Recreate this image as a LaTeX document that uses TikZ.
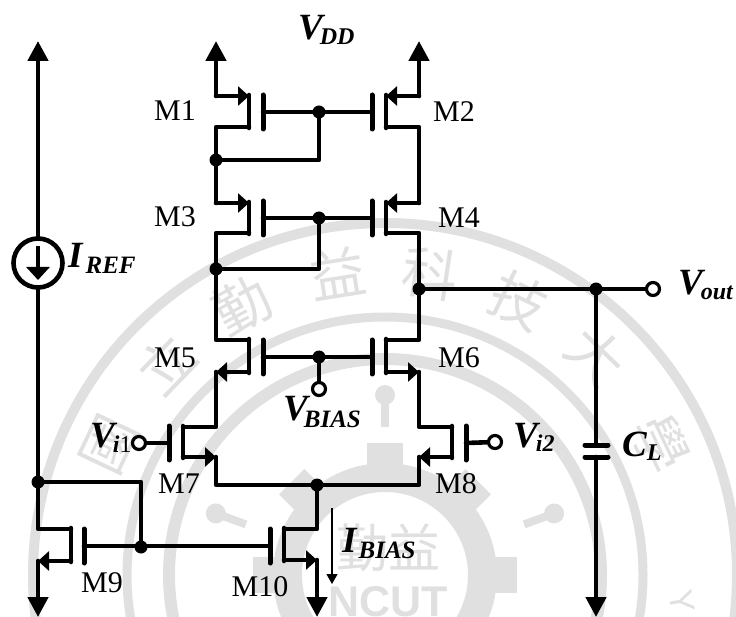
\documentclass[tikz,border=0pt]{standalone}
\usepackage{fontspec}
\setmainfont{Liberation Serif}
\newfontfamily\cjkwm{Noto Sans CJK TC}
\newfontfamily\sanswm{Liberation Sans}
\usetikzlibrary{arrows.meta,calc}
\definecolor{wm}{HTML}{E0E0E0}
\newcommand{\bi}{\bfseries\itshape}
% kern, main size, main letter, sub size, sub text, lowering of the sub
\newcommand{\VLab}[6][0]{{\fontsize{#2}{#2}\selectfont\bi #3}\kern#1pt\raisebox{-#6pt}{\fontsize{#4}{#4}\selectfont #5}}
\tikzset{
  wire/.style={line width=4.6pt,line cap=round,line join=round,black},
  plate/.style={line width=5pt,line cap=round,black},
  bigtip/.style={-{Triangle[length=20pt,width=20pt]}},
  smalltip/.style={-{Triangle[length=11pt,width=19pt]}},
  dotn/.style={circle,fill=black,inner sep=0pt,minimum size=13pt},
  term/.style={circle,draw=black,line width=3.2pt,fill=white,inner sep=0pt,minimum size=13pt},
  mlabel/.style={inner sep=0pt,font=\fontsize{30}{30}\selectfont},
  vlabel/.style={inner sep=0pt,anchor=base west},
  wmchar/.style={inner sep=0pt,text=wm,font=\cjkwm\fontsize{56}{56}\selectfont}
}
% name, channel x, plate x, gate y, top y, bottom y
\newcommand{\Mos}[6]{%
  \coordinate (#1-t) at (#2,#5);
  \coordinate (#1-b) at (#2,#6);
  \coordinate (#1-g) at (#3,#4);
  \draw[wire] (#2,#5-1) -- (#2,#6+1);
  \draw[plate] (#3,#4-17) -- (#3,#4+17);
}
\begin{document}
\begin{tikzpicture}[x=1pt,y=-1pt]
\useasboundingbox (0,0) rectangle (736,617);
% ---- faint seal behind the circuit
\begin{scope}
\clip (0,0) rectangle (736,617);
\draw[wm,line width=10pt] (385,575) circle (352pt);
\draw[wm,line width=9pt] (385,575) circle (258pt);
\draw[wm,line width=12pt] (385,575) circle (216pt);
\draw[wm,line width=29pt] (385,575) circle (97.5pt);
\foreach \a in {0,45,90,135,180,225,270,315}
  \fill[wm,shift={(385,575)},rotate=\a] (-18,-132) rectangle (18,-105);
\foreach \a in {-70,0,70}{
  \draw[wm,line width=8pt,shift={(385,575)},rotate=\a] (0,-178) -- (0,-148);
  \fill[wm,shift={(385,575)},rotate=\a] (0,-180) circle (10pt);
}
\foreach \a/\c in {-64.6/國,-46/立,-28/勤,-9/益,8.5/科,26/技,44/大,64.6/學}
  \node[wmchar,rotate=-\a] at ({385+305*sin(\a)},{575-305*cos(\a)}) {\c};
\node[inner sep=0pt,text=wm,font=\cjkwm\fontsize{52}{52}\selectfont] (wm1) at (388,548) {勤益};
\node[inner sep=0pt,text=wm,anchor=base,font=\sanswm\bfseries\fontsize{43}{43}\selectfont] (wm2) at (388,616) {NCUT};
\node[inner sep=0pt,text=wm,rotate=-80,font=\sanswm\fontsize{34}{34}\selectfont] (wm3) at (682,602) {Y};
\end{scope}
% ---- transistors
\Mos{M1}{249}{263}{112}{96}{127}
\Mos{M2}{386}{372}{112}{96}{127}
\Mos{M3}{249}{263}{218}{203}{233}
\Mos{M4}{386}{372}{218}{203}{233}
\Mos{M5}{249}{263}{357}{340}{372}
\Mos{M6}{386}{372}{357}{340}{372}
\Mos{M7}{183}{169}{443}{427}{457}
\Mos{M8}{452}{466}{443}{427}{457}
\Mos{M9}{71}{84}{546}{529}{561}
\Mos{M10}{284}{270}{546}{529}{560}
% ---- named points
\coordinate (tipL) at (216,41);
\coordinate (tipR) at (419,41);
\coordinate (tipI) at (38,41);
\coordinate (tip9) at (38,617);
\coordinate (tip10) at (317,617);
\coordinate (tipC) at (596,617);
\node[dotn] (n1) at (216,160) {};
\node[dotn] (n2) at (216,269) {};
\node[dotn] (g1) at (319,112) {};
\node[dotn] (g2) at (319,218) {};
\node[dotn] (g3) at (319,357) {};
\node[dotn] (nout) at (419,289) {};
\node[dotn] (nc) at (596,289) {};
\node[dotn] (tail) at (317,485) {};
\node[dotn] (nref) at (38,482) {};
\node[dotn] (n9) at (141,547) {};
\coordinate (railL) at (216,0);
\coordinate (railR) at (419,0);
\coordinate (railI) at (38,0);
\coordinate (rail10) at (317,0);
\coordinate (capT) at (596,445);
\coordinate (capB) at (596,457);
% ---- top rails and source arrows
\draw[wire,bigtip] (M1-t -| railL) -- (tipL);
\draw[wire,bigtip] (M2-t -| railR) -- (tipR);
\draw[wire,smalltip] (M1-t -| railL) -- (M1-t);
\draw[wire,smalltip] (M2-t -| railR) -- (M2-t);
\draw[wire,smalltip] (M3-t -| railL) -- (M3-t);
\draw[wire,smalltip] (M4-t -| railR) -- (M4-t);
% ---- stacks
\draw[wire] (M1-b) -- (M1-b -| railL) -- (M3-t -| railL);
\draw[wire] (M2-b) -- (M2-b -| railR) -- (M4-t -| railR);
\draw[wire] (M3-b) -- (M3-b -| railL) -- (M5-t -| railL) -- (M5-t);
\draw[wire] (M4-b) -- (M4-b -| railR) -- (M6-t -| railR) -- (M6-t);
% ---- gates
\draw[wire] (M1-g) -- (M2-g);
\draw[wire] (M3-g) -- (M4-g);
\draw[wire] (M5-g) -- (M6-g);
\draw[wire] (n1.center) -- (n1 -| g1) -- (g1.center);
\draw[wire] (n2.center) -- (n2 -| g2) -- (g2.center);
% ---- input pair
\draw[wire,smalltip] (M5-b) -- (M5-b -| railL);
\draw[wire,smalltip] (M6-b) -- (M6-b -| railR);
\draw[wire] (M5-b -| railL) -- (M7-t -| railL) -- (M7-t);
\draw[wire] (M6-b -| railR) -- (M8-t -| railR) -- (M8-t);
\draw[wire,smalltip] (M7-b) -- (M7-b -| railL);
\draw[wire,smalltip] (M8-b) -- (M8-b -| railR);
\draw[wire] (M7-b -| railL) -- (tail -| railL) -- (tail -| railR) -- (M8-b -| railR);
% ---- tail and mirror
\draw[wire] (tail.center) -- (M10-t -| rail10) -- (M10-t);
\draw[wire,smalltip] (M10-b) -- (M10-b -| rail10);
\draw[wire,bigtip] (M10-b -| rail10) -- (tip10);
\draw[wire,bigtip] (nref.center) -- (tipI);
\draw[wire] (nref.center) -- (M9-t -| railI) -- (M9-t);
\draw[wire,smalltip] (M9-b) -- (M9-b -| railI);
\draw[wire,bigtip] (M9-b -| railI) -- (tip9);
\draw[wire] (nref.center) -- (nref -| n9) -- (n9.center);
\draw[wire] (M9-g) -- (M10-g);
% ---- current source
\node[circle,draw=black,line width=4.6pt,fill=white,inner sep=0pt,minimum size=49pt] (iref) at (38,263) {};
\coordinate (irefT) at (38,246);
\coordinate (irefB) at (38,280);
\draw[wire,line cap=butt,-{Triangle[length=13pt,width=23pt]}] (irefT) -- (irefB);
% ---- output and load
\node[term] (vout) at (653,289) {};
\draw[wire] (nout.center) -- (vout);
\draw[wire] (nc.center) -- (capT);
\draw[wire,bigtip] (capB) -- (tipC);
\draw[line width=5pt,line cap=round] (585,445) -- (608,445);
\draw[line width=5pt,line cap=round] (585,457) -- (608,457);
% ---- inputs
\node[term] (vb) at (319,389) {};
\draw[wire] (g3.center) -- (vb);
\node[term] (vi1) at (139,443) {};
\draw[wire] (M7-g) -- (vi1);
\node[term] (vi2) at (495,442) {};
\draw[wire] (M8-g) -- (vi2);
% ---- current arrow
\coordinate (ibA) at (332,508);
\coordinate (ibB) at (332,584);
\draw[line width=1.3pt,-{Triangle[length=10pt,width=11pt]}] (ibA) -- (ibB);
% ---- transistor labels
\node[mlabel] (lM1) at (175,111) {M1};
\node[mlabel] (lM2) at (454,112) {M2};
\node[mlabel] (lM3) at (175,217) {M3};
\node[mlabel] (lM4) at (459,218) {M4};
\node[mlabel] (lM5) at (175,358) {M5};
\node[mlabel] (lM6) at (459,358) {M6};
\node[mlabel] (lM7) at (179,484) {M7};
\node[mlabel] (lM8) at (456,484) {M8};
\node[mlabel] (lM9) at (102,583) {M9};
\node[mlabel] (lM10) at (260,587) {M10};
% ---- signal labels
\node[vlabel] (lvdd) at (298,40) {\VLab[-3]{37}{V}{24}{\bi DD}{5}};
\node[vlabel] (liref) at (68,268) {\VLab[3]{37}{I}{25}{\bi REF}{6}};
\node[vlabel] (lvb) at (283,420) {\VLab[-4]{37}{V}{25}{\bi BIAS}{7}};
\node[vlabel] (lvi1) at (90,447) {\VLab[-2]{37}{V}{24}{{\bi i}1}{5}};
\node[vlabel] (lvi2) at (513,447) {\VLab[-2]{37}{V}{24}{\bi i2}{4}};
\node[vlabel] (lcl) at (622,456) {\VLab[0]{37}{C}{24}{\bi L}{4}};
\node[vlabel] (lvout) at (678,295) {\VLab[-2]{37}{V}{24}{\bi out}{5}};
\node[vlabel] (libias) at (342,552) {\VLab[2]{37}{I}{25}{\bi BIAS}{6}};
\end{tikzpicture}
\end{document}
